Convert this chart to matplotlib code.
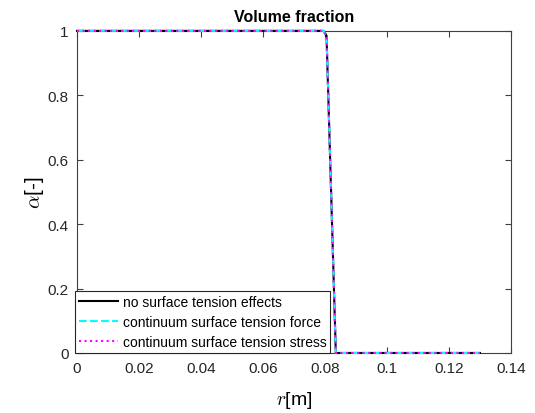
import matplotlib
matplotlib.use("Agg")
import matplotlib.pyplot as plt

# radial position [m] and volume fraction for the three cases
r_none = [0.0, 0.0795, 0.0805, 0.0835, 0.13]
alpha_none = [1.0, 1.0, 0.985, 0.0, 0.0]

r_csf = [0.0, 0.0795, 0.0805, 0.0835, 0.13]
alpha_csf = [1.0, 1.0, 0.985, 0.0, 0.0]

r_css = [0.0, 0.0795, 0.0805, 0.0835, 0.13]
alpha_css = [1.0, 1.0, 0.985, 0.0, 0.0]

labels = [
    "no surface tension effects",
    "continuum surface tension force",
    "continuum surface tension stress",
]

x_ticks = [0, 0.02, 0.04, 0.06, 0.08, 0.1, 0.12, 0.14]
x_tick_labels = ["0", "0.02", "0.04", "0.06", "0.08", "0.1", "0.12", "0.14"]
y_ticks = [0, 0.2, 0.4, 0.6, 0.8, 1]
y_tick_labels = ["0", "0.2", "0.4", "0.6", "0.8", "1"]


def main():
    plt.rcParams["font.family"] = ["Liberation Sans", "DejaVu Sans"]
    plt.rcParams["mathtext.fontset"] = "cm"

    fig = plt.figure(figsize=(5.35, 4.14), dpi=100)
    ax = fig.add_axes([0.144, 0.145, 0.811, 0.778])

    # lines sit on the frame at alpha = 0 and 1, so draw them above it
    ax.plot(r_none, alpha_none, color="black", linestyle="-", linewidth=1.5,
            label=labels[0], clip_on=False, zorder=3)
    ax.plot(r_csf, alpha_csf, color="cyan", linestyle="--", linewidth=1.5,
            label=labels[1], clip_on=False, zorder=3)
    ax.plot(r_css, alpha_css, color="magenta", linestyle=":", linewidth=1.5,
            label=labels[2], clip_on=False, zorder=3)

    ax.set_xlim(0, 0.14)
    ax.set_ylim(0, 1)
    ax.set_xticks(x_ticks)
    ax.set_xticklabels(x_tick_labels)
    ax.set_yticks(y_ticks)
    ax.set_yticklabels(y_tick_labels)

    axis_grey = "#404040"
    for s in ax.spines.values():
        s.set_color(axis_grey)
        s.set_linewidth(0.8)
        s.set_zorder(2)
    ax.tick_params(direction="in", top=True, right=True, length=4,
                   color=axis_grey, labelsize=11, labelcolor="#262626", pad=6)

    ax.set_title("Volume fraction", fontsize=11.5, fontweight="bold", pad=7)
    ax.set_xlabel(r"$r$[m]", fontsize=14, labelpad=10)
    ax.set_ylabel(r"$\alpha$[-]", fontsize=15, labelpad=1)

    leg = ax.legend(loc="lower left", bbox_to_anchor=(-0.004, 0.0), fontsize=10,
                    handlelength=2.8, borderaxespad=0.0, borderpad=0.3,
                    labelspacing=0.42, handletextpad=0.3, fancybox=False,
                    framealpha=1.0)
    leg.get_frame().set_edgecolor("#262626")
    leg.get_frame().set_linewidth(0.8)
    leg.set_zorder(5)

    fig.savefig("out.png", dpi=100)


if __name__ == "__main__":
    main()
